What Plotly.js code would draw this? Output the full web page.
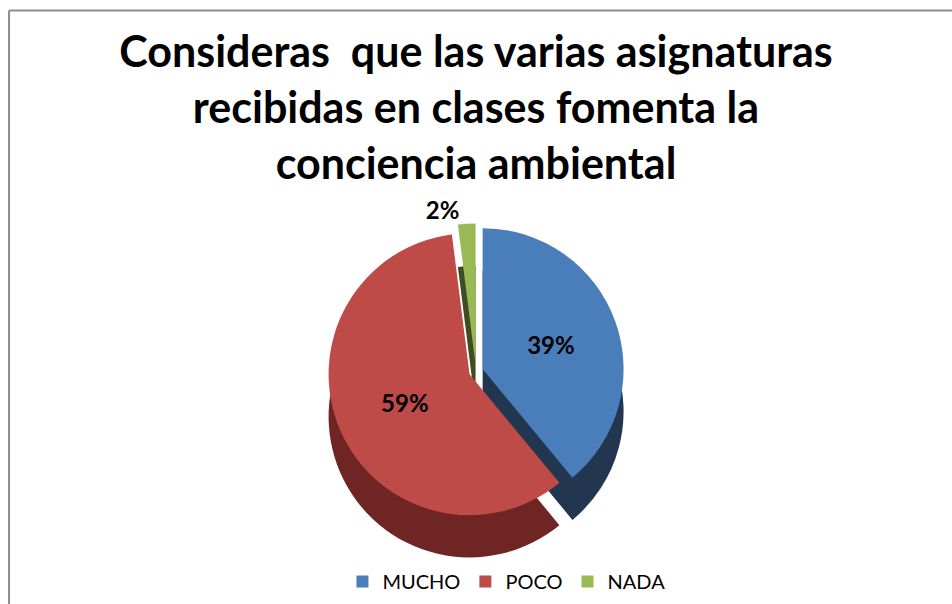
<!DOCTYPE html>
<html>
<head>
<meta charset="utf-8">
<script src="https://cdn.plot.ly/plotly-3.0.1.min.js"></script>
<style>html,body{margin:0;padding:0;background:#fff;}#chart{width:952px;height:604px;}</style>
</head>
<body>
<div id="chart"></div>
<script>
const categories = ["MUCHO", "POCO", "NADA"];
const percentages = [39, 59, 2];
const topColors = ["#4a7ebb", "#be4b48", "#98b954"];
const sideColors = ["#22364f", "#6e2523", "#3f4d23"];
const textPositions = ["inside", "inside", "outside"];

const pieDomainX = [0.2, 0.8];
const depth = 0.07;
const topDomainY = [0.14, 0.63];

const common = {
  type: "pie",
  labels: categories,
  values: percentages,
  sort: false,
  direction: "clockwise",
  rotation: 0,
  pull: [0.05, 0.05, 0.05],
  texttemplate: "%{value}%",
  textposition: textPositions,
  hoverinfo: "skip",
  insidetextorientation: "horizontal",
  marker: {line: {width: 0}}
};

const sideTrace = Object.assign({}, common, {
  domain: {x: pieDomainX, y: [topDomainY[0] - depth, topDomainY[1] - depth]},
  marker: {colors: sideColors, line: {width: 0}},
  textfont: {color: "rgba(0,0,0,0)", size: 24, family: "Lato, sans-serif", weight: "bold"},
  showlegend: false
});

const topTrace = Object.assign({}, common, {
  domain: {x: pieDomainX, y: topDomainY},
  marker: {colors: topColors, line: {width: 0}},
  textfont: {color: "#000", size: 24, family: "Lato, sans-serif", weight: "bold"},
  showlegend: true
});

const layout = {
  width: 952,
  height: 604,
  margin: {l: 0, r: 0, t: 0, b: 0},
  paper_bgcolor: "#fff",
  title: {
    text: "Consideras  que las varias asignaturas<br>recibidas en clases fomenta la<br>conciencia ambiental",
    font: {family: "Lato, sans-serif", size: 43, color: "#000", weight: "bold"},
    x: 0.5, xanchor: "center",
    xref: "paper", yref: "container",
    y: 0.889, yanchor: "middle"
  },
  legend: {
    orientation: "h",
    x: 0.532, xanchor: "center",
    y: 0.005, yanchor: "bottom",
    font: {family: "Lato, sans-serif", size: 20, color: "#000"},
    itemwidth: 30
  },
  shapes: [
    {type: "line", xref: "paper", yref: "paper", x0: 0.0095, x1: 1.01, y0: 0.9825, y1: 0.9825, line: {color: "#8c8c8c", width: 2}},
    {type: "line", xref: "paper", yref: "paper", x0: 0.0095, x1: 0.0095, y0: -0.01, y1: 0.9825, line: {color: "#8c8c8c", width: 2}}
  ]
};

Plotly.newPlot("chart", [sideTrace, topTrace], layout, {displayModeBar: false, staticPlot: true});
</script>
</body>
</html>
